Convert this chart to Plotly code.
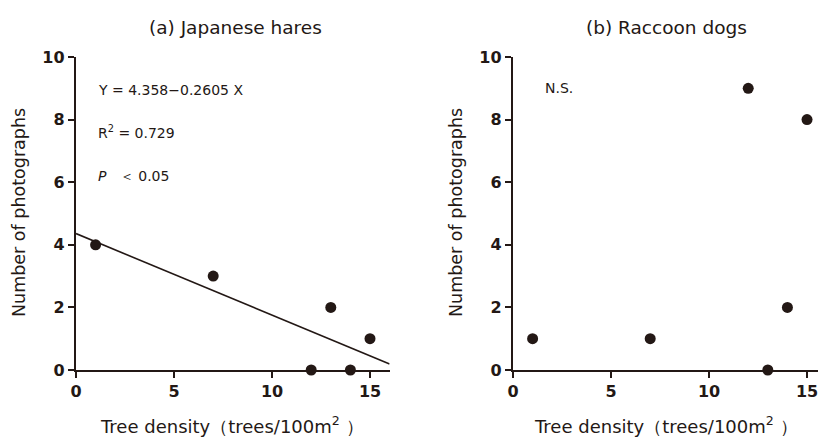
import plotly.graph_objects as go

tree_density = [1, 7, 12, 13, 14, 15]
hares = [4, 3, 0, 2, 0, 1]
raccoon = [1, 1, 9, 0, 2, 8]
fit_intercept = 4.358
fit_slope = -0.2605
fit_x = [0, 16]
fit_y = [fit_intercept + fit_slope * x for x in fit_x]

x_ticks = [0, 5, 10, 15]
y_ticks = [0, 2, 4, 6, 8, 10]

INK = "#231815"
W, H = 818, 437
T, B = 57, 67
FONT = "DejaVu Sans"

fig = go.Figure()
fig.add_trace(go.Scatter(x=fit_x, y=fit_y, mode="lines",
                         line=dict(color=INK, width=1.6), xaxis="x", yaxis="y",
                         showlegend=False, cliponaxis=False))
fig.add_trace(go.Scatter(x=tree_density, y=hares, mode="markers",
                         marker=dict(color=INK, size=11), xaxis="x", yaxis="y",
                         showlegend=False, cliponaxis=False))
fig.add_trace(go.Scatter(x=tree_density, y=raccoon, mode="markers",
                         marker=dict(color=INK, size=11), xaxis="x2", yaxis="y2",
                         showlegend=False, cliponaxis=False))

ax_common = dict(showgrid=False, zeroline=False, showline=True, linecolor=INK,
                 linewidth=2.4, ticks="outside", ticklen=6, tickwidth=2,
                 tickcolor=INK, automargin=False,
                 tickfont=dict(family=FONT, size=16, color=INK, weight="bold"))

fig.update_layout(
    width=W, height=H,
    margin=dict(l=0, r=0, t=T, b=B, pad=0),
    paper_bgcolor="white", plot_bgcolor="white",
    xaxis=dict(domain=[76 / W, 389.6 / W], range=[0, 16], tickvals=x_ticks,
               anchor="y", **ax_common),
    yaxis=dict(domain=[0, 1], range=[0, 10], tickvals=y_ticks, anchor="x",
               **ax_common),
    xaxis2=dict(domain=[513 / W, 1.0], range=[0, 15.56], tickvals=x_ticks,
                anchor="y2", ticklabeloverflow="allow", **ax_common),
    yaxis2=dict(domain=[0, 1], range=[0, 10], tickvals=y_ticks, anchor="x2",
                **ax_common),
)

def ann(text, x, y, size=14, family=FONT, xanchor="left",
        yanchor="middle", angle=0):
    fig.add_annotation(text=text, x=x / W, y=(H - B - y) / (H - B - T),
                       xref="paper", yref="paper",
                       showarrow=False, xanchor=xanchor, yanchor=yanchor,
                       textangle=angle,
                       font=dict(family=family, size=size, color=INK))

ann("(a) Japanese hares", 235, 27, size=18.5, xanchor="center")
ann("(b) Raccoon dogs", 666, 27, size=18.5, xanchor="center")
ann("Tree density（trees/100m<sup>2</sup> ）", 232, 425, size=18,
    xanchor="center")
ann("Tree density（trees/100m<sup>2</sup> ）", 666, 425, size=18,
    xanchor="center")
ann("Number of photographs", 19, 213, size=17.5, xanchor="center", angle=-90)
ann("Number of photographs", 456, 213, size=17.5, xanchor="center", angle=-90)

ann("Y = 4.358−0.2605 X", 96, 90, size=14)
ann("R<sup>2</sup> = 0.729", 96, 132, size=14)
ann("<i>P</i>   ＜ 0.05", 96, 176, size=14)
ann("N.S.", 543, 88, size=14)

fig.write_html("out.html", config={"displayModeBar": False},
               post_script="document.body.style.margin='0';")
